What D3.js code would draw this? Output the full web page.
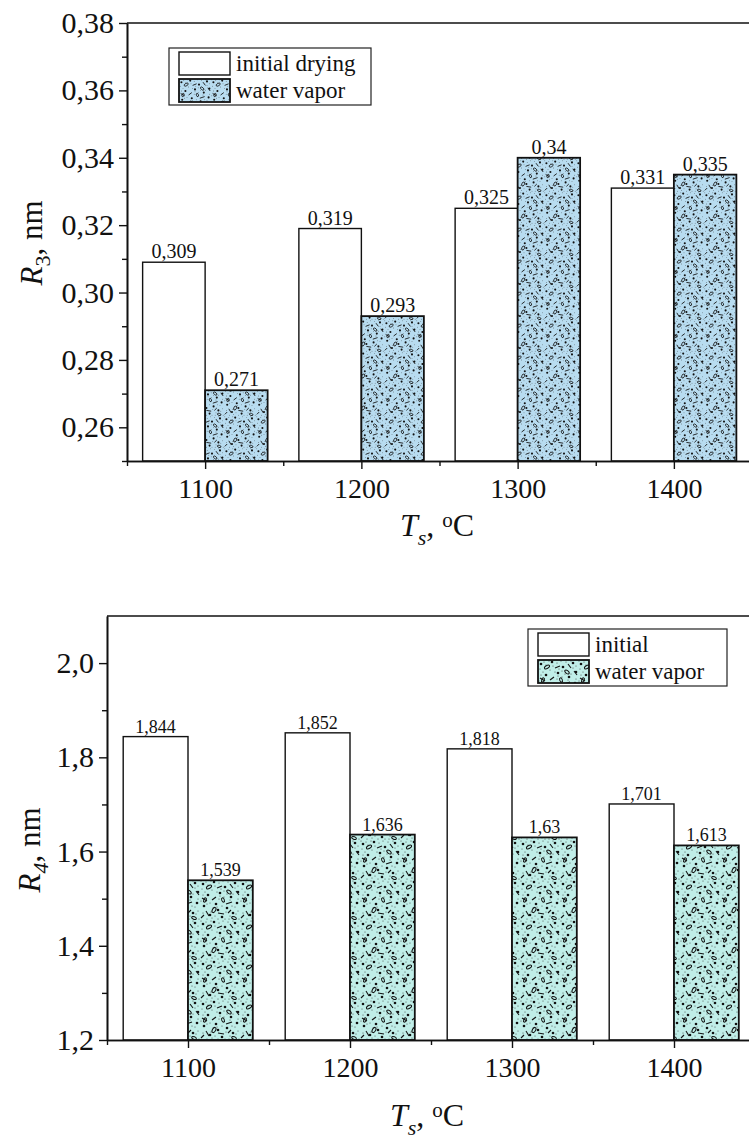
<!DOCTYPE html>
<html>
<head>
<meta charset="utf-8">
<script src="https://cdn.jsdelivr.net/npm/d3@7"></script>
<style>
  body { margin: 0; background: #fff; }
  svg text { font-family: "Liberation Serif", "Times New Roman", serif; fill: #111; }
</style>
</head>
<body>
<svg id="fig" width="749" height="1144"></svg>
<script>
// ---- data ----
var temps = [1100, 1200, 1300, 1400];

var r3Initial = [0.309, 0.319, 0.325, 0.331];
var r3Vapor   = [0.271, 0.293, 0.340, 0.335];
var r3Labels  = { initial: ['0,309', '0,319', '0,325', '0,331'], vapor: ['0,271', '0,293', '0,34', '0,335'] };
var r3Ticks   = [0.26, 0.28, 0.30, 0.32, 0.34, 0.36, 0.38];

var r4Initial = [1.844, 1.852, 1.818, 1.701];
var r4Vapor   = [1.539, 1.636, 1.630, 1.613];
var r4Labels  = { initial: ['1,844', '1,852', '1,818', '1,701'], vapor: ['1,539', '1,636', '1,63', '1,613'] };
var r4Ticks   = [1.2, 1.4, 1.6, 1.8, 2.0];

var svg = d3.select('#fig');
var defs = svg.append('defs');

//-------------------------------------------------------------------------------
// texture tile for the "water vapor" bars: stipple + dots + little rings and dashes
var glyphDots  = [[3,4],[14,2],[25,7],[35,3],[8,15],[20,13],[31,17],[4,26],[16,24],[27,28],[37,23],[10,35],[22,37],[33,33],[18,30],[38,12]];
var glyphRings = [[9,7,2.8,1.5,-30],[29,12,2.6,1.4,40],[14,30,2.8,1.6,-60],[34,38,2.4,1.3,20],[23,20,2.2,1.3,70],[5,20,2.2,1.3,-70]];
var glyphDash  = [[17,8,22,6],[2,18,7,21],[26,24,32,22],[6,31,9,36],[18,33,24,34],[36,11,39,15],[12,20,16,17],[30,4,33,8],[28,33,31,30],[1,38,4,35]];
var fineStipple = [[1,1],[6,2],[11,1],[19,3],[23,1],[28,2],[33,1],[38,6],[2,9],[12,10],[17,12],[24,11],[35,8],
                   [5,12],[27,14],[38,19],[1,21],[10,23],[19,19],[22,26],[30,20],[35,27],[3,33],[13,28],[18,39],
                   [26,32],[30,36],[38,31],[7,39],[15,36],[25,39],[39,39],[8,5],[20,16],[32,26],[11,32],
                   [15,6],[21,9],[33,14],[7,24],[24,17],[36,34],[12,38],[29,39],[3,15],[17,27]];

function MakePattern(id, bg, size) {
    var p = defs.append('pattern').attr('id', id)
        .attr('patternUnits', 'userSpaceOnUse')
        .attr('width', size).attr('height', size);
    var g = p.append('g').attr('transform', 'scale(' + (size / 40) + ')');
    g.append('rect').attr('width', 40).attr('height', 40).attr('fill', bg);
    g.selectAll('.st').data(fineStipple).join('circle')
        .attr('cx', d => d[0]).attr('cy', d => d[1]).attr('r', 0.5).attr('fill', '#333');
    g.selectAll('.dt').data(glyphDots).join('circle')
        .attr('cx', d => d[0]).attr('cy', d => d[1]).attr('r', 1.3).attr('fill', '#111');
    g.selectAll('.rg').data(glyphRings).join('ellipse')
        .attr('cx', d => d[0]).attr('cy', d => d[1]).attr('rx', d => d[2]).attr('ry', d => d[3])
        .attr('transform', d => 'rotate(' + d[4] + ',' + d[0] + ',' + d[1] + ')')
        .attr('fill', 'none').attr('stroke', '#111').attr('stroke-width', 1);
    g.selectAll('.ds').data(glyphDash).join('line')
        .attr('x1', d => d[0]).attr('y1', d => d[1]).attr('x2', d => d[2]).attr('y2', d => d[3])
        .attr('stroke', '#111').attr('stroke-width', 1.1);
}
MakePattern('vaporBlue', '#b8dcf0', 32);
MakePattern('vaporCyan', '#c0eee8', 40);

//-------------------------------------------------------------------------------

function DrawChart(opt) {
    var g = svg.append('g');

    var x = d3.scaleLinear().domain([1050, 1450]).range([opt.left, opt.right]);
    var y = d3.scaleLinear().domain(opt.yDomain).range([opt.bottom, opt.top]);
    var barW = x(1140) - x(1100);

    // bars: initial to the left of the tick, vapor to the right
    g.selectAll('.bi').data(temps).join('rect')
        .attr('x', (d, i) => x(d) - barW).attr('y', (d, i) => y(opt.initial[i]))
        .attr('width', barW).attr('height', (d, i) => opt.bottom - y(opt.initial[i]))
        .attr('fill', '#fff').attr('stroke', '#111').attr('stroke-width', 1.4);
    g.selectAll('.bv').data(temps).join('rect')
        .attr('x', d => x(d)).attr('y', (d, i) => y(opt.vapor[i]))
        .attr('width', barW).attr('height', (d, i) => opt.bottom - y(opt.vapor[i]))
        .attr('fill', 'url(#' + opt.pattern + ')').attr('stroke', '#111').attr('stroke-width', 1.8);

    // value labels
    g.selectAll('.li').data(temps).join('text')
        .attr('x', d => x(d) - barW / 2).attr('y', (d, i) => y(opt.initial[i]) - 4)
        .attr('text-anchor', 'middle').style('font-size', opt.labelSize + 'px').text((d, i) => opt.labels.initial[i]);
    g.selectAll('.lv').data(temps).join('text')
        .attr('x', d => x(d) + barW / 2).attr('y', (d, i) => y(opt.vapor[i]) - 4)
        .attr('text-anchor', 'middle').style('font-size', opt.labelSize + 'px').text((d, i) => opt.labels.vapor[i]);

    // axes
    var fmt = v => d3.format(opt.fmt)(v).replace('.', ',');
    var yAx = g.append('g').attr('transform', 'translate(' + opt.left + ',0)')
        .call(d3.axisLeft(y).tickValues(opt.yTicks).tickFormat(fmt).tickSize(8).tickPadding(5).tickSizeOuter(0));
    g.append('g').attr('transform', 'translate(' + opt.left + ',0)')
        .call(d3.axisLeft(y).tickValues(opt.yMinor).tickFormat('').tickSize(5).tickSizeOuter(0));
    var xAx = g.append('g').attr('transform', 'translate(0,' + opt.bottom + ')')
        .call(d3.axisBottom(x).tickValues(temps).tickFormat(d3.format('d')).tickSize(8).tickPadding(9).tickSizeOuter(0));
    g.append('g').attr('transform', 'translate(0,' + opt.bottom + ')')
        .call(d3.axisBottom(x).tickValues([1050, 1150, 1250, 1350, 1450]).tickFormat('').tickSize(5).tickSizeOuter(0));
    g.selectAll('.domain').attr('stroke', '#111').attr('stroke-width', 1.6);
    g.selectAll('.tick line').attr('stroke', '#111').attr('stroke-width', 1.4);
    yAx.selectAll('.tick text').style('font-size', '30px');
    xAx.selectAll('.tick text').style('font-size', '28px');

    // top frame line
    g.append('line').attr('x1', opt.left).attr('x2', opt.right)
        .attr('y1', opt.top).attr('y2', opt.top).attr('stroke', '#111').attr('stroke-width', 1.6);

    // axis titles
    var xt = g.append('text').attr('x', opt.xTitle[0]).attr('y', opt.xTitle[1]).style('font-size', '32px');
    xt.append('tspan').attr('font-style', 'italic').text('T');
    xt.append('tspan').attr('font-style', 'italic').style('font-size', '22px').attr('dy', 9).text('s');
    xt.append('tspan').attr('dy', -9).text(', ');
    xt.append('tspan').style('font-size', '21px').attr('dy', -9).text('o');
    xt.append('tspan').attr('dy', 9).text('C');

    var yt = g.append('text')
        .attr('transform', 'translate(' + opt.yTitle[0] + ',' + opt.yTitle[1] + ') rotate(-90)')
        .attr('text-anchor', 'middle').style('font-size', '31px');
    yt.append('tspan').attr('font-style', 'italic').text('R');
    yt.append('tspan').attr('font-style', opt.subItalic ? 'italic' : 'normal').style('font-size', '22px').attr('dy', 8).text(opt.sub);
    yt.append('tspan').attr('dy', -8).text(', nm');

    // legend
    var L = opt.legend;
    var lg = g.append('g').attr('transform', 'translate(' + L.x + ',' + L.y + ')');
    lg.append('rect').attr('width', L.w).attr('height', 57)
        .attr('fill', '#fff').attr('stroke', '#222').attr('stroke-width', 1.2);
    var items = [{ name: L.names[0], fill: '#fff', sw: 1.4 }, { name: L.names[1], fill: 'url(#' + opt.pattern + ')', sw: 1.8 }];
    var it = lg.selectAll('.it').data(items).join('g')
        .attr('transform', (d, i) => 'translate(10,' + (4 + i * 27) + ')');
    it.append('rect').attr('width', 51).attr('height', 23)
        .attr('fill', d => d.fill).attr('stroke', '#111').attr('stroke-width', d => d.sw);
    it.append('text').attr('x', 57).attr('y', 19).style('font-size', L.font + 'px').text(d => d.name);
}

DrawChart({
    left: 127, right: 752, top: 23, bottom: 461,
    yDomain: [0.25, 0.38], yTicks: r3Ticks, yMinor: [0.25, 0.27, 0.29, 0.31, 0.33, 0.35, 0.37], fmt: '.2f',
    initial: r3Initial, vapor: r3Vapor, labels: r3Labels, labelSize: 20,
    pattern: 'vaporBlue', sub: '3', subItalic: false,
    xTitle: [400, 536], yTitle: [42, 243],
    legend: { x: 169, y: 48, w: 202, font: 23, names: ['initial drying', 'water vapor'] }
});

DrawChart({
    left: 107, right: 755, top: 616, bottom: 1040,
    yDomain: [1.2, 2.1], yTicks: r4Ticks, yMinor: [1.3, 1.5, 1.7, 1.9], fmt: '.1f',
    initial: r4Initial, vapor: r4Vapor, labels: r4Labels, labelSize: 18,
    pattern: 'vaporCyan', sub: '4', subItalic: true,
    xTitle: [390, 1126], yTitle: [40, 850],
    legend: { x: 528, y: 629, w: 199, font: 23, names: ['initial', 'water vapor'] }
});
</script>
</body>
</html>
